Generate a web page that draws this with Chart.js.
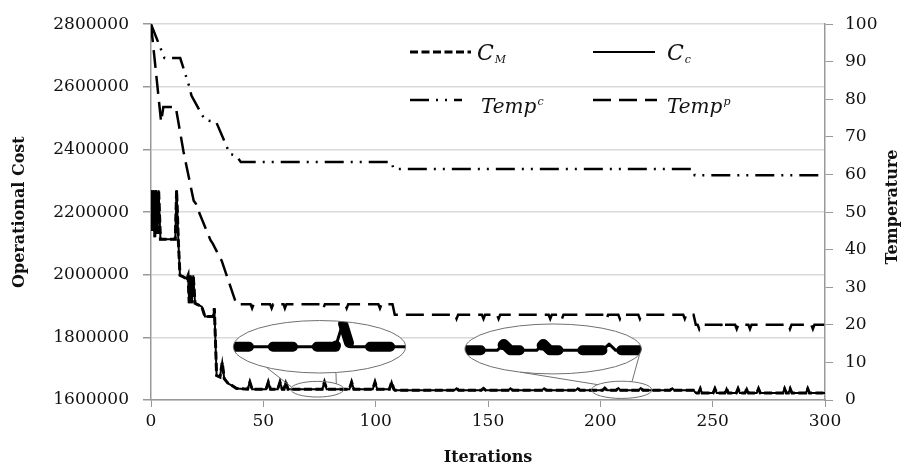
<!DOCTYPE html>
<html>
<head>
<meta charset="utf-8">
<script src="https://cdn.jsdelivr.net/npm/chart.js@4.4.1/dist/chart.umd.min.js"></script>
<style>
  html, body { margin: 0; padding: 0; background: #fff; }
</style>
</head>
<body>
<canvas id="chart" width="907" height="470"></canvas>
<script>
// Ejes
const costTicks = [1600000, 1800000, 2000000, 2200000, 2400000, 2600000, 2800000];
const tempTicks = [0, 10, 20, 30, 40, 50, 60, 70, 80, 90, 100];
const iterTicks = [0, 50, 100, 150, 200, 250, 300];

// C_c (coste, eje izquierdo)
const ccIter = [0, 0.5, 1, 1.7, 2.2, 2.8, 3.4, 4.2, 10.8, 11.4, 12.2, 12.9, 14.4, 15.9, 16.5, 17, 17.5, 18.1, 18.8, 19.6,
  21, 22.6, 24, 27.7, 28.2, 29.2, 30.7, 31.7, 32.6, 34.4, 35.9, 38.1,
  43, 44, 45, 51.2, 52.2, 53.2, 56.4, 57.4, 58.4, 59.2, 60, 61, 76.2, 77.2, 78.2, 88.3, 89.3, 90.3,
  98.7, 99.7, 100.7, 106.1, 107.1, 108.1, 108.6,
  135, 136, 137, 147, 148, 149, 159, 160, 161, 174, 175, 176, 189, 190, 191, 201, 202, 203, 207, 208, 209,
  217, 218, 219, 231, 232, 233, 241.5, 242.5,
  243.7, 244.5, 245.3, 250.2, 251, 251.8, 255.4, 256.2, 257, 260.5, 261.3, 262.1, 264.4, 265.2, 266,
  269.6, 270.4, 271.2, 281.2, 282, 282.8, 283.7, 284.5, 285.3, 291.5, 292.3, 293.1, 300];
const ccCost = [2270000, 2140000, 2270000, 2120000, 2270000, 2130000, 2270000, 2113000, 2113000, 2270000, 2103000, 1998000, 1993000, 1987000, 1998000, 1909000, 1998000, 1909000, 1998000, 1909000,
  1904000, 1898000, 1867000, 1867000, 1893000, 1678000, 1673000, 1720000, 1668000, 1652000, 1647000, 1637000,
  1634500, 1657000, 1634500, 1634500, 1657000, 1634500, 1634500, 1657000, 1634500, 1634500, 1657000, 1634500, 1634500, 1657000, 1634500, 1634500, 1657000, 1634500,
  1634500, 1657000, 1634500, 1634500, 1657000, 1634500, 1631000,
  1631000, 1637000, 1631000, 1631000, 1637000, 1631000, 1631000, 1637000, 1631000, 1631000, 1637000, 1631000, 1631000, 1637000, 1631000, 1631000, 1638000, 1631000, 1631000, 1638000, 1631000,
  1631000, 1638000, 1631000, 1631000, 1637000, 1631000, 1631000, 1622000,
  1622000, 1636000, 1622000, 1622000, 1636000, 1622000, 1622000, 1636000, 1622000, 1622000, 1636000, 1622000, 1622000, 1636000, 1622000,
  1622000, 1636000, 1622000, 1622000, 1636000, 1622000, 1622000, 1636000, 1622000, 1622000, 1636000, 1622000, 1622000];

// C_M: en la imagen va encima de C_c todo el tiempo
const cmIter = ccIter;
const cmCost = ccCost;

// Temp^c (eje derecho)
const tempCIter = [0, 6, 13, 17, 18, 24, 29, 34, 35, 38, 40, 107, 108, 241, 242, 300];
const tempCVal = [100, 91, 91, 83.5, 81, 74.5, 74, 67, 65.5, 65, 63.3, 63.3, 61.5, 61.5, 59.8, 59.8];

// Temp^p (eje derecho)
const tempPIter = [0, 4.5, 5.5, 11, 14.5, 19, 20, 21, 26.5, 27.5, 31.5, 38,
  44.3, 45, 45.7, 53, 53.7, 54.4, 59, 59.6, 60.3, 76, 76.7, 77.4, 86.4, 87.1, 87.8, 101.2, 101.9, 102.6, 107.5, 108.5,
  135.3, 136, 136.7, 147.3, 148, 148.7, 154, 154.7, 155.4, 177, 177.7, 178.4, 182.2, 182.9, 183.6,
  202.1, 202.8, 203.5, 208, 208.7, 209.4, 216.9, 217.6, 218.3, 236.9, 237.6, 238.3, 241.5, 242.5,
  243.3, 244, 244.7, 253.9, 254.6, 255.3, 260, 260.7, 261.4, 265.9, 266.6, 267.3, 283.7, 284.4, 285.1, 293.9, 294.6, 295.3, 300];
const tempPVal = [100, 74, 78, 78, 66, 53, 52.2, 50.5, 42.5, 41.6, 37, 25.5,
  25.5, 24.4, 25.5, 25.5, 24.4, 25.5, 25.5, 24.4, 25.5, 25.5, 24.4, 25.5, 25.5, 24.4, 25.5, 25.5, 24.4, 25.5, 25.5, 22.7,
  22.7, 21.6, 22.7, 22.7, 21.6, 22.7, 22.7, 21.6, 22.7, 22.7, 21.6, 22.7, 22.7, 21.6, 22.7,
  22.7, 21.6, 22.7, 22.7, 21.6, 22.7, 22.7, 21.6, 22.7, 22.7, 21.6, 22.7, 22.7, 20,
  20, 18.9, 20, 20, 18.9, 20, 20, 18.9, 20, 20, 18.9, 20, 20, 18.9, 20, 20, 18.9, 20, 20];

function toPoints(xs, ys) {
  return xs.map((x, i) => ({ x: x, y: ys[i] }));
}

const serif = '"DejaVu Serif", serif';

// Lupas (zonas ampliadas)
const insets = [
  { from: [74, 1634500], halfX: 11.8, halfY: 25000, to: [75, 1770000], zoomX: 3.25, zoomY: 3.35, links: [[128, 195], [79, -44]] },
  { from: [209.5, 1632500], halfX: 13.4, halfY: 27500, to: [179, 1763000], zoomX: 2.93, zoomY: 2.9, links: [[112, 217], [-2, -70]] }
];

// Leyenda
const keySpots = [
  { ds: 0, x0: 410, x1: 471, ly: 52, tx: 477, ty: 60, main: 'C', mark: 'M', size: 22, small: 11, shift: 3 },
  { ds: 1, x0: 593, x1: 655, ly: 52, tx: 667, ty: 60, main: 'C', mark: 'c', size: 22, small: 11, shift: 3 },
  { ds: 2, x0: 410, x1: 462, ly: 100, tx: 481, ty: 113, main: 'Temp', mark: 'c', size: 20, small: 11, shift: -8 },
  { ds: 3, x0: 593, x1: 657, ly: 100, tx: 667, ty: 113, main: 'Temp', mark: 'p', size: 20, small: 11, shift: -8 }
];

const insetPlugin = {
  id: 'insets',
  afterDatasetsDraw(chart) {
    const ctx = chart.ctx;
    const xs = chart.scales.x, ys = chart.scales.y;
    insets.forEach(ins => {
      const sx = xs.getPixelForValue(ins.from[0]);
      const sy = ys.getPixelForValue(ins.from[1]);
      const srx = xs.getPixelForValue(ins.from[0] + ins.halfX) - sx;
      const sry = sy - ys.getPixelForValue(ins.from[1] + ins.halfY);
      const bx = xs.getPixelForValue(ins.to[0]);
      const by = ys.getPixelForValue(ins.to[1]);
      const brx = srx * ins.zoomX, bry = sry * ins.zoomY;

      ctx.save();
      ctx.strokeStyle = '#707070';
      ctx.lineWidth = 1;
      ctx.beginPath();
      ctx.ellipse(sx, sy, srx, sry, 0, 0, Math.PI * 2);
      ctx.stroke();
      ins.links.forEach(([a, b]) => {
        const ra = a * Math.PI / 180, rb = b * Math.PI / 180;
        ctx.beginPath();
        ctx.moveTo(bx + brx * Math.cos(ra), by + bry * Math.sin(ra));
        ctx.lineTo(sx + srx * Math.cos(rb), sy + sry * Math.sin(rb));
        ctx.stroke();
      });

      ctx.beginPath();
      ctx.ellipse(bx, by, brx, bry, 0, 0, Math.PI * 2);
      ctx.fillStyle = '#fff';
      ctx.fill();
      ctx.save();
      ctx.clip();
      // C_c fina, C_M gruesa a trazos
      [[1, 3, []], [0, 10, [20, 24]]].forEach(([idx, lw, dash]) => {
        const pts = chart.getDatasetMeta(idx).data;
        ctx.beginPath();
        let started = false;
        pts.forEach((p, i) => {
          const near = Math.abs(p.x - sx) < srx * 1.6;
          const nextNear = pts[i + 1] && Math.abs(pts[i + 1].x - sx) < srx * 1.6;
          const prevNear = pts[i - 1] && Math.abs(pts[i - 1].x - sx) < srx * 1.6;
          if (!(near || nextNear || prevNear)) return;
          const X = bx + (p.x - sx) * ins.zoomX;
          const Y = by + (p.y - sy) * ins.zoomY;
          if (!started) { ctx.moveTo(X, Y); started = true; } else ctx.lineTo(X, Y);
        });
        ctx.strokeStyle = '#000';
        ctx.lineWidth = lw;
        ctx.lineCap = dash.length ? 'round' : 'butt';
        ctx.lineJoin = 'round';
        ctx.setLineDash(dash);
        ctx.stroke();
      });
      ctx.restore();
      ctx.setLineDash([]);
      ctx.strokeStyle = '#707070';
      ctx.lineWidth = 1;
      ctx.beginPath();
      ctx.ellipse(bx, by, brx, bry, 0, 0, Math.PI * 2);
      ctx.stroke();
      ctx.restore();
    });
  }
};

const keyPlugin = {
  id: 'keyBox',
  afterDraw(chart) {
    const ctx = chart.ctx;
    keySpots.forEach(s => {
      const ds = chart.data.datasets[s.ds];
      ctx.save();
      ctx.strokeStyle = ds.borderColor;
      ctx.lineWidth = ds.borderWidth;
      ctx.setLineDash(ds.borderDash || []);
      ctx.beginPath();
      ctx.moveTo(s.x0, s.ly);
      ctx.lineTo(s.x1, s.ly);
      ctx.stroke();
      ctx.setLineDash([]);
      ctx.fillStyle = '#111';
      ctx.textBaseline = 'alphabetic';
      ctx.textAlign = 'left';
      ctx.font = 'italic ' + s.size + 'px ' + serif;
      ctx.fillText(s.main, s.tx, s.ty);
      const w = ctx.measureText(s.main).width;
      ctx.font = 'italic ' + s.small + 'px ' + serif;
      ctx.fillText(s.mark, s.tx + w + 1, s.ty + s.shift);
      ctx.restore();
    });

    // titulo del eje derecho, leido de abajo hacia arriba
    ctx.save();
    ctx.translate(893, 207);
    ctx.rotate(-Math.PI / 2);
    ctx.font = 'bold 16px ' + serif;
    ctx.fillStyle = '#111';
    ctx.textAlign = 'center';
    ctx.textBaseline = 'middle';
    ctx.fillText('Temperature', 0, 0);
    ctx.restore();
  }
};

const tickFont = { family: serif, size: 17 };
const titleFont = { family: serif, size: 16, weight: 'bold' };

new Chart(document.getElementById('chart'), {
  type: 'line',
  data: {
    datasets: [
      { label: 'C_M', data: toPoints(cmIter, cmCost), yAxisID: 'y', borderColor: '#000', borderWidth: 3, borderDash: [8, 3.5] },
      { label: 'C_c', data: toPoints(ccIter, ccCost), yAxisID: 'y', borderColor: '#000', borderWidth: 2 },
      { label: 'Temp^c', data: toPoints(tempCIter, tempCVal), yAxisID: 'y1', borderColor: '#000', borderWidth: 2.5, borderDash: [19, 7, 2, 7, 2, 7] },
      { label: 'Temp^p', data: toPoints(tempPIter, tempPVal), yAxisID: 'y1', borderColor: '#000', borderWidth: 2.5, borderDash: [18, 8] }
    ]
  },
  options: {
    responsive: false,
    animation: false,
    devicePixelRatio: 1,
    layout: { padding: { top: 18, left: 0, right: 0, bottom: 0 } },
    elements: { point: { radius: 0 }, line: { tension: 0, fill: false } },
    plugins: { legend: { display: false }, tooltip: { enabled: false } },
    scales: {
      x: {
        type: 'linear', min: 0, max: 300,
        afterBuildTicks: s => { s.ticks = iterTicks.map(v => ({ value: v })); },
        afterFit: s => { s.height = 70; },
        ticks: { font: tickFont, color: '#111', padding: 4, maxRotation: 0 },
        grid: { drawOnChartArea: false, tickLength: 7, tickColor: '#999' },
        border: { color: '#999', width: 1.5 },
        title: { display: true, text: 'Iterations', font: titleFont, color: '#111', padding: { top: 0, bottom: 3 } }
      },
      y: {
        position: 'left', min: 1600000, max: 2800000,
        afterBuildTicks: s => { s.ticks = costTicks.map(v => ({ value: v })); },
        afterFit: s => { s.width = 151; },
        ticks: { font: tickFont, color: '#111', padding: 14, callback: v => String(v) },
        grid: { color: '#d9d9d9', lineWidth: 1.5, tickLength: 8, tickColor: '#999' },
        border: { color: '#999', width: 1.5 },
        title: { display: true, text: 'Operational Cost', font: titleFont, color: '#111', padding: { top: 10, bottom: 0 } }
      },
      y1: {
        position: 'right', min: 0, max: 100,
        afterBuildTicks: s => { s.ticks = tempTicks.map(v => ({ value: v })); },
        afterFit: s => { s.width = 82; },
        ticks: { font: tickFont, color: '#111', padding: 12 },
        grid: { drawOnChartArea: false, tickLength: 8, tickColor: '#999' },
        border: { color: '#999', width: 1.5 }
      }
    }
  },
  plugins: [insetPlugin, keyPlugin]
});
</script>
</body>
</html>
